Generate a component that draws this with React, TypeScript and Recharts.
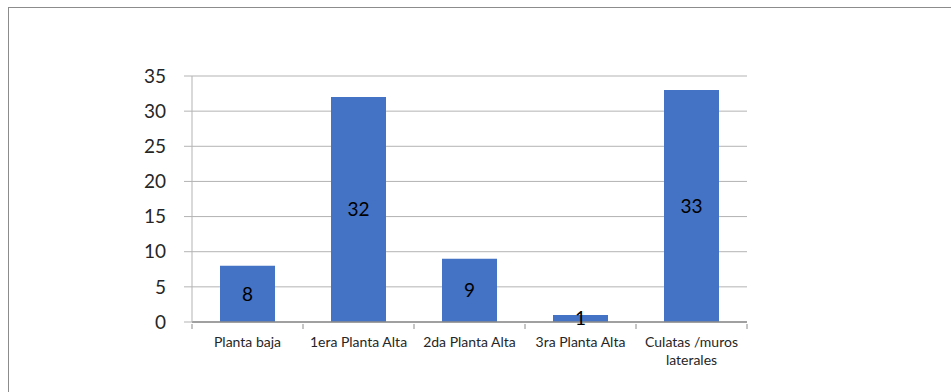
import { BarChart, Bar, XAxis, YAxis, CartesianGrid, LabelList, Text } from "recharts";

const categories = ["Planta baja", "1era Planta Alta", "2da Planta Alta", "3ra Planta Alta", "Culatas /muros laterales"];
const counts = [8, 32, 9, 1, 33];
const yTicks = [0, 5, 10, 15, 20, 25, 30, 35];

const data = categories.map((name, i) => ({ name, value: counts[i] }));

const FONT = "Lato, 'Open Sans', sans-serif";

function CategoryTick({ x, y, payload, index }: any) {
  const half = payload?.offset ?? 55.5;
  return (
    <g>
      <line x1={x - half} y1={y - 6} x2={x - half} y2={y - 1} stroke="#8c8c8c" />
      {index === categories.length - 1 && (
        <line x1={x + half} y1={y - 6} x2={x + half} y2={y - 1} stroke="#8c8c8c" />
      )}
      <Text
        x={x}
        y={y + 7}
        width={110}
        textAnchor="middle"
        verticalAnchor="start"
        fontSize={14}
        fontFamily={FONT}
        fill="#262626"
        lineHeight={18}
      >
        {payload.value}
      </Text>
    </g>
  );
}

export default function App() {
  return (
    <div style={{ position: "absolute", left: 0, top: 0, width: 951, height: 392, background: "#fff" }}>
      <div
        style={{
          position: "absolute",
          left: 8,
          top: 7,
          width: 943,
          height: 385,
          borderTop: "1px solid #8c8c8c",
          borderLeft: "1px solid #8c8c8c",
        }}
      />
      <BarChart
        width={951}
        height={392}
        data={data}
        margin={{ top: 76, right: 204, bottom: 30, left: 132 }}
        style={{ position: "absolute", left: 0, top: 0 }}
      >
        <CartesianGrid vertical={false} stroke="#b3b3b3" strokeWidth={1} />
        <XAxis
          dataKey="name"
          interval={0}
          height={40}
          axisLine={{ stroke: "#8c8c8c", strokeWidth: 1.5 }}
          tickLine={false}
          tick={<CategoryTick />}
        />
        <YAxis
          width={60}
          domain={[0, 35]}
          ticks={yTicks}
          interval={0}
          axisLine={{ stroke: "#b3b3b3" }}
          tickLine={{ stroke: "#b3b3b3" }}
          tickSize={8}
          tickMargin={18}
          tick={{ fontSize: 19, fontFamily: FONT, fill: "#262626" }}
        />
        <Bar dataKey="value" fill="#4472C4" barSize={55} isAnimationActive={false}>
          <LabelList dataKey="value" position="center" fontSize={19} fontFamily={FONT} fill="#000" />
        </Bar>
      </BarChart>
    </div>
  );
}
